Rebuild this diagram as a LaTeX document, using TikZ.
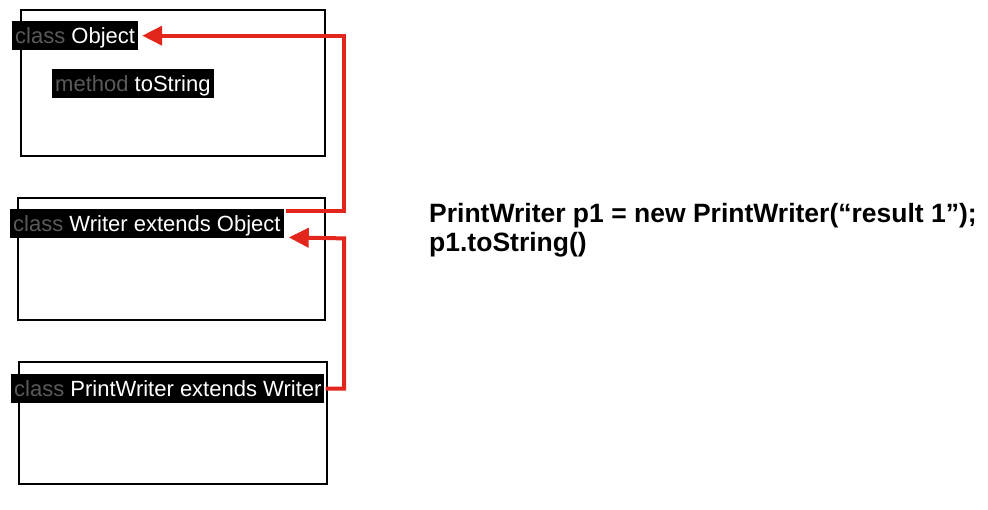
\documentclass[tikz,border=0pt]{standalone}
\usepackage{fontspec}
\setmainfont{Liberation Sans}
\usetikzlibrary{arrows.meta}
\definecolor{arrowred}{HTML}{E3261C}
\definecolor{kwgray}{HTML}{5A5A5A}
\begin{document}
\begin{tikzpicture}[x=1pt,y=-1pt,
  classbox/.style={draw=black,line width=2pt},
  lbl/.style={fill=black,text=white,anchor=north west,inner xsep=3pt,inner ysep=0pt,
    minimum height=29pt,text height=19pt,text depth=3pt,font=\fontsize{22}{24}\selectfont},
  redarrow/.style={draw=arrowred,line width=4pt,-{Triangle[length=20pt,width=19pt]}},
  code/.style={anchor=base west,inner sep=0pt,font=\fontsize{26.5}{30}\selectfont\bfseries}]
\useasboundingbox (0,0) rectangle (988,510);
\draw[classbox] (21,10) rectangle (325,156);
\draw[classbox] (18,198) rectangle (325,320);
\draw[classbox] (19,362) rectangle (327,484);
\node[lbl] (ol) at (12,21) {\textcolor{kwgray}{class} Object};
\node[lbl] (ml) at (52,69) {\textcolor{kwgray}{method} toString};
\node[lbl] (wl) at (10,209) {\textcolor{kwgray}{class} Writer extends Object};
\node[lbl] (pl) at (11,374) {\textcolor{kwgray}{class} PrintWriter extends Writer};
\coordinate (rail) at (344,0);
\draw[redarrow] ([xshift=2pt,yshift=-2.5pt]wl.north east) -| (rail |- ol.east) -- ([xshift=4pt]ol.east);
\draw[redarrow] ([xshift=1pt]pl.east) -| (rail |- wl.south east) -- ([xshift=5pt,yshift=1pt]wl.south east);
\node[code] (c1) at (429,223) {PrintWriter p1 = new PrintWriter(“result 1”);};
\node[code] (c2) at (429,252) {p1.toString()};
\end{tikzpicture}
\end{document}
